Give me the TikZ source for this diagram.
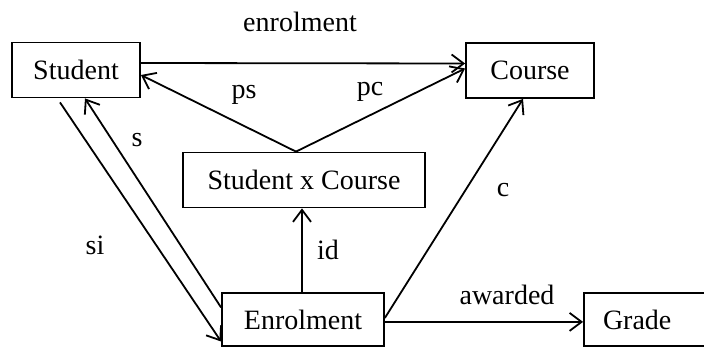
\documentclass[tikz,border=0pt]{standalone}
\usepackage{fontspec}
\setmainfont{Liberation Serif}
\usetikzlibrary{arrows.meta}

\tikzset{
  box/.style={draw, line width=0.9pt, inner sep=0pt, minimum height=27.5pt},
  lbl/.style={inner sep=0pt},
}

\begin{document}
\begin{tikzpicture}[x=0.5pt,y=-0.5pt,line width=0.9pt,>={Straight Barb[length=6pt,width=9pt]},
  font=\fontsize{14}{16}\selectfont]
					\useasboundingbox (0,0) rectangle (704,348);
					\clip (0,0) rectangle (704,348);
					% Boxes
					\node[box,minimum width=64pt] (student) at (76,70) {Student};
					\node[box,minimum width=64pt] (course) at (530,70.5) {Course};
					\node[box,minimum width=121pt] (sxc) at (304,180) {Student x Course};
					\node[box,minimum width=81pt,minimum height=26.5pt] (enrol) at (303,319.5) {Enrolment};
					\node[box,minimum height=26.5pt,inner xsep=9.5pt,text width=49pt,align=left] (grade) at (652,319.5) {Grade};
					% Arrows
					\draw[->] ([yshift=3.5pt]student.east) -- ([yshift=3.5pt]course.west);
					\draw[->] ([xshift=-4pt]sxc.north) -- ([yshift=-2.5pt]student.east);
					\draw[->] ([xshift=-4pt]sxc.north) -- ([yshift=1pt]course.west);
					\draw[->] ([xshift=-8pt]student.south) ++(0,-2pt) -- ([yshift=-11pt]enrol.west);
					\draw[->] ([yshift=6pt]enrol.west) -- ([xshift=4.5pt]student.south);
					\draw[->] ([xshift=-0.5pt]enrol.north) -- ([xshift=-1pt]sxc.south);
					\draw[->] ([yshift=0.8pt]enrol.east) -- ([xshift=-3.5pt]course.south);
					\draw[->] ([yshift=-1.2pt]enrol.east) -- ([yshift=-1.2pt]grade.west);
					% Labels
					\node[lbl] (l-enrolment) at (300,22) {enrolment};
					\node[lbl] (l-ps) at (244,95) {ps};
					\node[lbl] (l-pc) at (370,92) {pc};
					\node[lbl] (l-s) at (137,140) {s};
					\node[lbl] (l-si) at (95,245) {si};
					\node[lbl] (l-id) at (328,250) {id};
					\node[lbl] (l-c) at (503,190) {c};
					\node[lbl] (l-awarded) at (507,295) {awarded};
				\end{tikzpicture}
\end{document}
